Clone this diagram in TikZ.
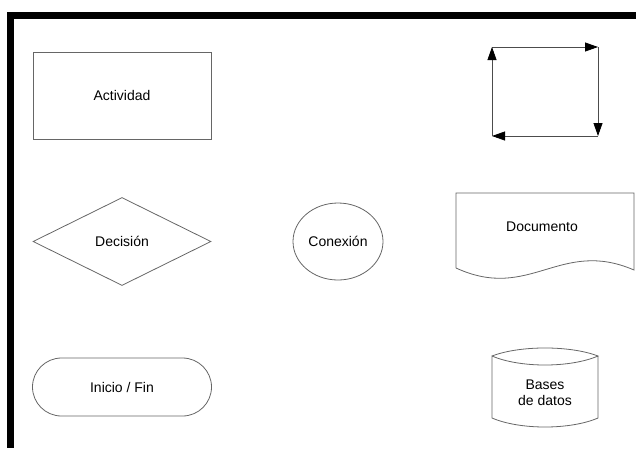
\documentclass[tikz,border=0pt]{standalone}
\usepackage{fontspec}
\setmainfont{Liberation Sans}
\usepackage{xcolor}
\usetikzlibrary{arrows.meta,shapes.geometric}

\definecolor{linea}{gray}{0.4}
\tikzset{
  forma/.style={draw=linea, line width=0.8pt, inner sep=0pt,
                font=\fontsize{14}{16}\selectfont},
  texto/.style={font=\fontsize{14}{16}\selectfont, align=center},
  flecha/.style={draw=black!70, line width=0.8pt,
                 -{Triangle[length=13pt,width=9pt,color=black]}}
}

\begin{document}
\begin{tikzpicture}[x=1pt,y=-1pt]
  \useasboundingbox (0,0) rectangle (636,448);
  \fill[black] (7,12) rectangle (636,19);
  \fill[black] (7,12) rectangle (14,448);

  \node[forma, rectangle, minimum width=178, minimum height=87] (actividad) at (122,95.5) {Actividad};
  \node[forma, diamond, minimum width=178, minimum height=88] (decision) at (122,241.5) {Decisión};
  \node[forma, ellipse, minimum width=90, minimum height=77] (conexion) at (338,241.5) {Conexión};
  \node[forma, rectangle, rounded corners=29, minimum width=179, minimum height=58] (inicio) at (122,387) {Inicio / Fin};

  % ciclo
  \coordinate (c1) at (492,47);
  \coordinate (c2) at (598,47);
  \coordinate (c3) at (598,136);
  \coordinate (c4) at (492,136);
  \draw[flecha] (c1) -- (c2);
  \draw[flecha] (c2) -- (c3);
  \draw[flecha] (c3) -- (c4);
  \draw[flecha] (c4) -- (c1);

  % documento
  \draw[draw=linea, line width=0.8pt] (456,268) -- (456,193) -- (634,193) -- (634,270)
    .. controls (560,238) and (530,302) .. (456,268);
  \node[texto] (documento) at (542,227) {Documento};

  % bases de datos
  \draw[draw=linea, line width=0.8pt] (492,356) .. controls (520,345.3) and (570,345.3) .. (598,356)
    .. controls (570,368) and (520,368) .. (492,356) -- (492,418)
    .. controls (520,430) and (570,430) .. (598,418) -- (598,356);
  \node[texto] (datos) at (545,392.5) {Bases\\de datos};
\end{tikzpicture}
\end{document}
